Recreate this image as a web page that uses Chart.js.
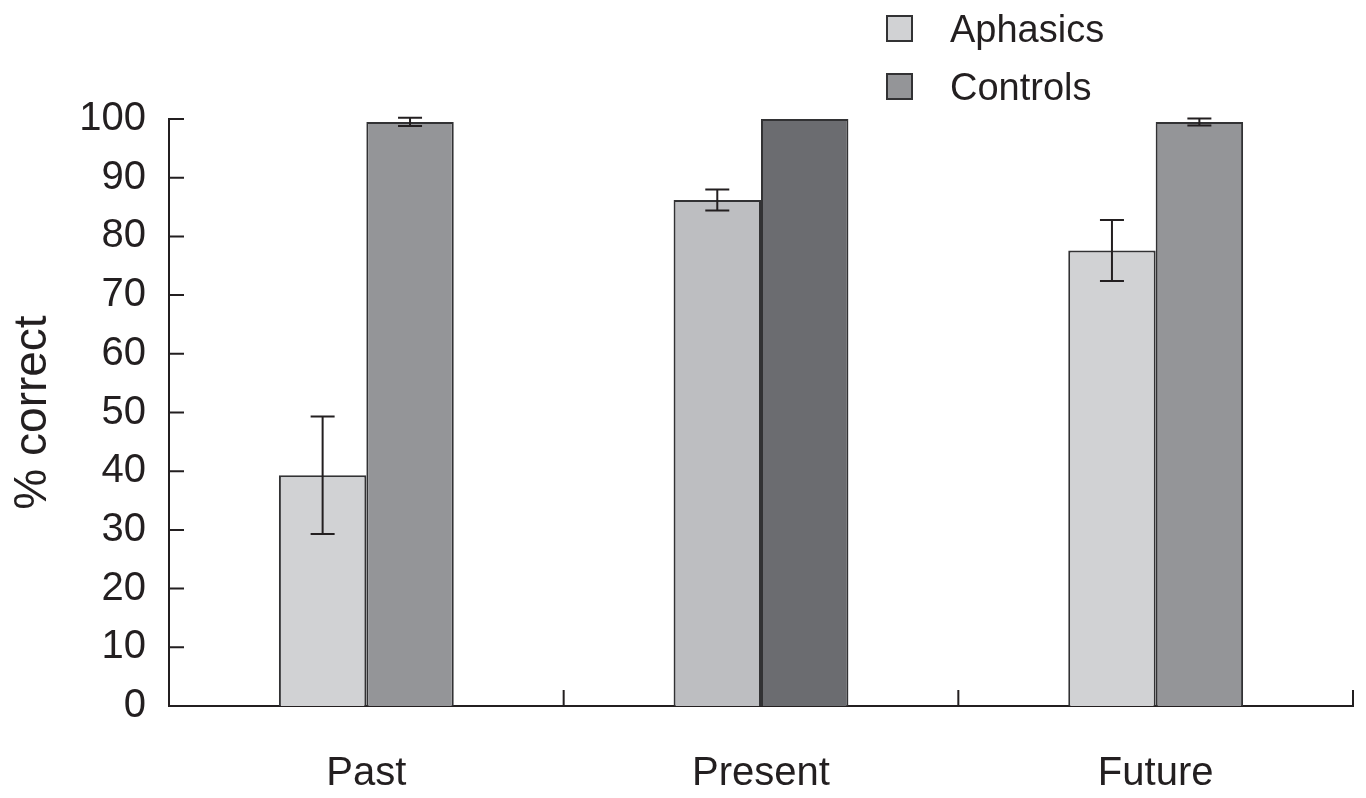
<!DOCTYPE html>
<html>
<head>
<meta charset="utf-8">
<script src="https://cdn.jsdelivr.net/npm/chart.js@4.4.1/dist/chart.umd.min.js"></script>
<style>
  html, body { margin: 0; padding: 0; background: #ffffff; }
  #wrap { width: 1366px; height: 798px; position: relative; }
</style>
</head>
<body>
<div id="wrap"><canvas id="tenseChart"></canvas></div>
<script>
// tense production accuracy, aphasics vs controls

const CATEGORIES = ['Past', 'Present', 'Future'];
const APHASICS = [39.3, 86.2, 77.6];
const APHASICS_ERR = [10, 1.8, 5.2];
const CONTROLS = [99.5, 100, 99.5];
const CONTROLS_ERR = [0.7, 0, 0.6];
const Y_TICKS = [0, 10, 20, 30, 40, 50, 60, 70, 80, 90, 100];

const APHASICS_COLORS = ['#d1d2d4', '#bdbec1', '#d1d2d4'];
const CONTROLS_COLORS = ['#949598', '#6b6c70', '#949598'];
const LEGEND_COLORS = ['#d1d2d4', '#949598'];
const INK = '#231f20';
const EDGE = '#323234';
const FONT = '"Liberation Sans", Arial, sans-serif';

// Error bars drawn on top of each bar
const errorBars = {
    id: 'errorBars',
    afterDatasetsDraw(chart) {
        const ctx = chart.ctx;
        const y = chart.scales.y;
        const errs = [APHASICS_ERR, CONTROLS_ERR];
        ctx.save();
        ctx.strokeStyle = INK;
        ctx.lineWidth = 2;
        chart.data.datasets.forEach((ds, di) => {
            const meta = chart.getDatasetMeta(di);
            meta.data.forEach((bar, i) => {
                const e = errs[di][i];
                if (!e) return;
                const hi = y.getPixelForValue(ds.data[i] + e);
                const lo = y.getPixelForValue(ds.data[i] - e);
                const cap = 12;
                ctx.beginPath();
                ctx.moveTo(bar.x, hi); ctx.lineTo(bar.x, lo);
                ctx.moveTo(bar.x - cap, hi); ctx.lineTo(bar.x + cap, hi);
                ctx.moveTo(bar.x - cap, lo); ctx.lineTo(bar.x + cap, lo);
                ctx.stroke();
            });
        });
        ctx.restore();
    }
};

// Inward tick marks on both axes
const innerTicks = {
    id: 'innerTicks',
    afterDraw(chart) {
        const ctx = chart.ctx;
        const { x, y } = chart.scales;
        const area = chart.chartArea;
        ctx.save();
        ctx.strokeStyle = INK;
        ctx.lineWidth = 2;
        ctx.beginPath();
        y.ticks.forEach(t => {
            const py = y.getPixelForValue(t.value);
            ctx.moveTo(area.left, py);
            ctx.lineTo(area.left + 15, py);
        });
        for (let i = 0; i < CATEGORIES.length; i++) {
            const px = i < CATEGORIES.length - 1
                ? (x.getPixelForValue(i) + x.getPixelForValue(i + 1)) / 2
                : area.right;
            ctx.moveTo(px, area.bottom);
            ctx.lineTo(px, area.bottom - 16);
        }
        ctx.stroke();
        ctx.restore();
    }
};

// Stacked legend in the top right
const stackedLegend = {
    id: 'stackedLegend',
    afterDraw(chart) {
        const ctx = chart.ctx;
        ctx.save();
        ctx.font = '38px ' + FONT;
        ctx.textBaseline = 'middle';
        chart.data.datasets.forEach((ds, i) => {
            const top = 16 + i * 58;
            ctx.fillStyle = LEGEND_COLORS[i];
            ctx.fillRect(887, top, 25, 25);
            ctx.strokeStyle = EDGE;
            ctx.lineWidth = 2;
            ctx.strokeRect(887, top, 25, 25);
            ctx.fillStyle = INK;
            ctx.fillText(ds.label, 950, top + 16);
        });
        ctx.restore();
    }
};

new Chart(document.getElementById('tenseChart'), {
    type: 'bar',
    data: {
        labels: CATEGORIES,
        datasets: [
            {
                label: 'Aphasics',
                data: APHASICS,
                backgroundColor: APHASICS_COLORS,
                borderColor: EDGE,
                borderWidth: 2,
                borderSkipped: 'bottom'
            },
            {
                label: 'Controls',
                data: CONTROLS,
                backgroundColor: CONTROLS_COLORS,
                borderColor: EDGE,
                borderWidth: 2,
                borderSkipped: 'bottom'
            }
        ]
    },
    options: {
        responsive: true,
        maintainAspectRatio: false,
        animation: false,
        clip: false,
        barPercentage: 1,
        categoryPercentage: 0.443,
        layout: { padding: { top: 119, right: 13, left: 0, bottom: 0 } },
        plugins: {
            legend: { display: false },
            tooltip: { enabled: false }
        },
        scales: {
            x: {
                grid: { display: false, drawTicks: false, tickLength: 0 },
                border: { display: true, color: INK, width: 2 },
                ticks: { color: INK, font: { family: FONT, size: 40 }, padding: 44 },
                afterFit: s => { s.height = 92; }
            },
            y: {
                min: 0,
                max: 100,
                afterBuildTicks: s => { s.ticks = Y_TICKS.map(v => ({ value: v })); },
                grid: { display: false, drawTicks: false, tickLength: 0 },
                border: { display: true, color: INK, width: 2 },
                ticks: { color: INK, font: { family: FONT, size: 40 }, padding: 23 },
                title: {
                    display: true,
                    text: '% correct',
                    color: INK,
                    font: { family: FONT, size: 46 },
                    padding: { top: 6, bottom: 0 }
                },
                afterFit: s => { s.width = 169; }
            }
        }
    },
    plugins: [errorBars, innerTicks, stackedLegend]
});
</script>
</body>
</html>
